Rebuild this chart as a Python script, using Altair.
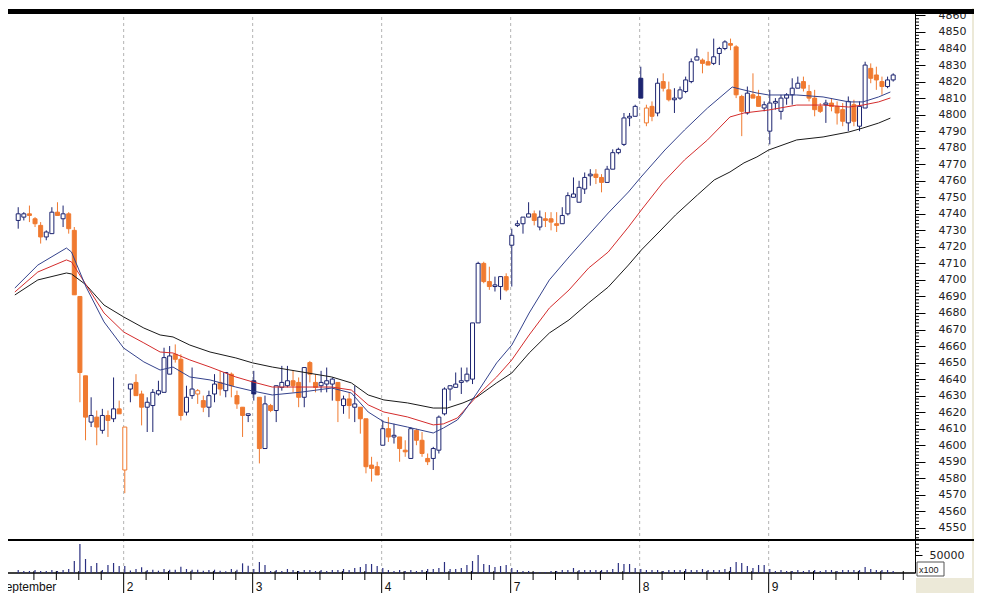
import altair as alt
import pandas as pd

# ---------------- data ----------------
# bar index: 0 = first bar of day "2"; 23 bars per day
OPEN = [4736,4738,4740,4737,4733,4726,4728,4741,4737,4740,4730,4690,4642,4614,4617,4609,4618,4616,4622,
        4585,4634,4638,4631,4623,4624,4631,4632,4643,4655,4652,4620,4630,4631,4627,4623,4631,4638,4633,4643,4630,4623,4618,
        4639,4629,4598,4624,4621,4635,4636,4639,4638,4629,4650,4638,4636,4637,4637,4638,4624,4628,4623,4623,4616,4588,4587,
        4600,4610,4605,4605,4597,4592,4609,4603,4592,4592,4597,4619,4634,4635,4638,4639,4640,4674,4710,4699,4696,4696,4702,
        4721,4733,4734,4738,4740,4732,4737,4737,4734,4734,4740,4750,4747,4755,4763,4764,4762,4759,4767,4777,4782,4798,4799,
        4822,4795,4805,4801,4820,4815,4809,4810,4814,4820,4833,4833,4832,4831,4837,4840,4843,4841,4811,4801,4812,4811,4804,
        4790,4807,4802,4810,4812,4816,4820,4814,4810,4805,4806,4807,4805,4803,4795,4806,4793,4804,4828,4824,4820,4817,4821]
HIGH = [4744,4741,4745,4738,4735,4730,4744,4747,4745,4741,4732,4690,4642,4629,4621,4622,4621,4641,4627,
        4611,4637,4643,4633,4629,4634,4639,4659,4660,4661,4655,4636,4647,4634,4630,4633,4643,4645,4644,4644,4633,4623,4619,
        4645,4629,4630,4625,4636,4648,4648,4645,4641,4647,4651,4643,4645,4647,4641,4638,4630,4632,4636,4623,4616,4593,4590,
        4615,4617,4613,4605,4603,4611,4610,4608,4595,4599,4618,4635,4636,4644,4647,4647,4674,4711,4711,4708,4702,4702,4704,
        4731,4736,4738,4747,4742,4742,4741,4741,4741,4744,4753,4762,4760,4765,4767,4767,4764,4769,4779,4780,4801,4801,4806,
        4829,4806,4808,4822,4825,4820,4816,4817,4823,4834,4840,4834,4838,4846,4841,4845,4846,4842,4812,4817,4825,4815,4808,
        4815,4810,4812,4813,4822,4823,4823,4818,4815,4807,4809,4810,4808,4807,4811,4809,4808,4832,4831,4829,4823,4823,4825]
LOW = [4731,4736,4735,4732,4722,4724,4728,4739,4732,4728,4691,4626,4603,4611,4600,4607,4605,4614,4619,
       4571,4626,4630,4612,4608,4608,4630,4632,4643,4650,4615,4618,4628,4625,4620,4617,4626,4630,4629,4629,4622,4605,4614,
       4627,4589,4598,4620,4614,4633,4635,4632,4623,4623,4638,4632,4632,4632,4627,4614,4619,4616,4614,4607,4583,4578,4582,
       4600,4602,4601,4590,4593,4592,4600,4593,4588,4585,4595,4618,4627,4635,4631,4638,4637,4674,4698,4694,4693,4688,4693,
       4696,4732,4728,4738,4733,4730,4732,4730,4729,4734,4739,4750,4747,4752,4757,4758,4753,4759,4767,4776,4781,4793,4799,
       4810,4793,4796,4799,4814,4808,4801,4809,4813,4819,4833,4825,4830,4830,4830,4839,4839,4810,4787,4800,4810,4805,4802,
       4782,4803,4797,4806,4806,4816,4814,4808,4799,4801,4795,4802,4794,4793,4790,4793,4790,4804,4819,4815,4812,4816,4820]
CLOSE = [4740,4740,4739,4734,4726,4729,4741,4739,4740,4731,4691,4644,4617,4618,4611,4618,4615,4622,4619,
         4611,4637,4630,4623,4626,4632,4633,4653,4654,4652,4618,4629,4634,4633,4623,4630,4637,4634,4644,4636,4625,4618,4619,
         4631,4598,4625,4621,4636,4638,4639,4636,4629,4647,4643,4635,4638,4639,4640,4627,4628,4624,4625,4616,4587,4586,4582,
         4610,4605,4606,4598,4596,4610,4603,4595,4590,4598,4617,4634,4636,4637,4639,4643,4674,4710,4699,4696,4697,4702,4694,
         4727,4734,4738,4740,4736,4738,4736,4735,4733,4739,4751,4752,4756,4762,4764,4762,4759,4767,4777,4779,4798,4799,4805,
         4810,4804,4799,4819,4816,4809,4810,4815,4821,4832,4835,4831,4830,4835,4840,4844,4842,4812,4802,4813,4810,4805,4806,
         4807,4808,4810,4812,4816,4819,4816,4810,4803,4802,4807,4805,4801,4796,4808,4796,4805,4830,4822,4821,4817,4821,4824]
VOLUME = [8300,5600,5600,8300,5600,5600,8300,5600,8300,11100,33300,80600,38900,19400,27800,8300,22200,27800,19400,
          19400,6900,11100,15800,8300,9200,6400,11100,9200,9200,17500,11100,9200,9200,6400,8300,9200,6400,4700,11100,9200,26900,20300,
          11100,30600,22200,5600,8300,5600,11100,8300,5600,8300,8300,5600,8300,5600,8300,8300,11100,8300,13900,16700,25000,25000,19400,
          13900,8300,5600,8300,5600,8300,5600,8300,11100,11100,13900,30600,11100,11100,13900,22200,33300,50000,25000,22200,16700,19400,22200,
          13900,8300,5600,5600,2800,2800,2800,5600,5600,8300,8300,13900,8300,8300,8300,8300,8300,8300,11100,27800,25000,25000,13900,
          11100,8300,8300,8300,5600,8300,8300,8300,11100,8300,8300,11100,8300,8300,8300,11100,16700,30600,27800,19400,13900,22200,22200,
          11100,5600,8300,5600,5600,8300,5600,8300,8300,5600,8300,8300,5600,8300,8300,8300,8300,16700,11100,8300,8300,8300,5600]
FIRST_INDEX = -19

# moving averages, sampled along the curves (bar index, value)
MA_FAST_X = [-19.6,-15.5,-10.4,-9.5,-6.9,-3.7,-0.2,3.4,6.3,8.6,11.6,15.2,19.8,22.8,26.3,31.6,36.9,40.4,43.4,46.2,
             50.4,55.0,56.8,59.3,60.3,62.8,66.3,69.0,72.1,75.7,79.2,82.7,86.2,89.8,91.9,96.3,99.8,103.9,108.3,110.4,
             112.7,114.8,119.8,124.5,129.1,131.6,134.4,136.5]
MA_FAST_Y = [4695.1,4709.0,4719.3,4716.9,4695.7,4674.6,4658.8,4650.4,4645.5,4647.3,4641.3,4639.5,4635.2,4632.8,4630.4,
             4632.2,4634.6,4631.6,4620.1,4614.1,4611.0,4607.4,4610.4,4615.3,4619.5,4631.6,4649.8,4660.6,4680.0,4700.0,
             4713.9,4727.2,4740.5,4753.2,4761.7,4778.6,4790.7,4804.0,4816.7,4814.9,4813.1,4811.9,4811.9,4810.7,4807.7,
             4807.7,4810.7,4813.7]
MA_MID_X = [-19.6,-15.5,-10.4,-9.5,-6.9,-3.7,-0.2,3.4,6.3,8.6,11.6,15.2,19.8,22.8,26.3,31.6,36.9,40.4,43.4,46.2,
            50.4,55.0,56.8,59.3,62.8,66.3,69.0,72.1,75.7,79.2,82.7,86.2,89.8,92.1,95.9,99.8,103.9,107.9,110.4,114.8,
            119.8,124.5,129.1,131.6,134.4,136.5]
MA_MID_Y = [4692.7,4704.8,4712.1,4710.9,4697.0,4680.0,4668.5,4661.9,4656.4,4655.8,4651.6,4647.3,4641.3,4638.3,4635.2,
            4635.2,4635.2,4633.4,4624.4,4620.1,4617.1,4612.3,4612.9,4616.5,4629.8,4641.3,4651.6,4666.7,4683.0,4693.9,
            4707.2,4716.9,4732.0,4742.3,4758.7,4772.6,4784.7,4798.6,4801.0,4802.8,4805.8,4805.8,4804.6,4805.8,4807.7,
            4810.1]
MA_SLOW_X = [-19.6,-15.5,-10.4,-9.5,-6.9,-3.7,-0.2,3.4,6.3,8.6,11.6,15.2,19.8,22.8,26.3,31.6,36.9,40.4,43.4,46.2,
             50.4,55.0,57.5,60.3,62.8,66.3,69.0,72.1,75.7,79.2,82.7,86.2,89.8,92.1,95.6,98.2,102.1,105.1,107.9,110.4,
             112.7,114.8,119.8,124.5,129.1,131.6,134.4,136.5]
MA_SLOW_Y = [4690.9,4700.0,4704.2,4703.6,4697.0,4684.8,4677.6,4670.9,4666.7,4665.5,4660.6,4656.4,4652.8,4649.8,4647.3,
             4644.3,4641.3,4637.7,4630.4,4627.4,4625.6,4622.5,4622.5,4625.6,4629.2,4637.7,4643.7,4655.8,4667.9,4675.8,
             4686.1,4695.7,4709.0,4718.1,4730.2,4739.3,4751.4,4760.5,4765.3,4770.8,4774.4,4778.6,4784.7,4786.5,4789.5,
             4791.9,4794.9,4797.9]

# session boundaries (bar index) and their labels
DAY_X = [-23.2, -0.2, 22.8, 45.8, 68.8, 91.8, 114.8]
DAY_LABELS = ["September", "2", "3", "4", "7", "8", "9"]
MINOR_X = [-16.2,-12.2,-8.2,-4.2, 3.8,7.8,11.8,15.8,19.8, 26.8,30.8,34.8,38.8,42.8, 49.8,53.8,57.8,61.8,65.8,
           72.8,76.8,80.8,84.8,88.8, 95.8,99.8,103.8,107.8,111.8, 118.8,122.8,126.8,130.8,134.8,138.8]
PRICE_MAJOR = list(range(4550, 4861, 10))
PRICE_MINOR = [t for t in range(4544, 4863, 2) if t % 10 != 0]
VOL_MAJOR = [50000]
VOL_MINOR = [60000, 70000, 80000]

# ---------------- styling ----------------
NAVY = "#1c2470"
ORANGE = "#f07a30"
BLUE = "#34428c"
RED = "#d42c2c"
BLACK = "#1a1a1a"
W, H = 907, 562

df = pd.DataFrame(dict(i=list(range(FIRST_INDEX, FIRST_INDEX + len(OPEN))),
                       o=OPEN, h=HIGH, l=LOW, c=CLOSE, v=VOLUME))
prev = df["c"].shift(1).fillna(df["o"])
df["stroke"] = [NAVY if c >= p else ORANGE for c, p in zip(df["c"], prev)]
df["fill"] = ["white" if c >= o else s for c, o, s in zip(df["c"], df["o"], df["stroke"])]

XS = alt.Scale(domain=[-19.93, 140.0], nice=False, zero=False)
PS = alt.Scale(domain=[4522.7, 4862.7], nice=False, zero=False)
VS = alt.Scale(domain=[0, 1561111], nice=False)

price_axis = alt.Axis(
    orient="right", values=PRICE_MAJOR, format="d", tickSize=10, zindex=0,
    tickColor="#000", domainColor="#000", domainWidth=1,
    labelFont="DejaVu Sans", labelFontSize=11, labelColor="#222",
    labelPadding=13, labelOverlap=False, labelFlush=False, grid=False, title=None,
    labelAlign="left", labelBaseline="middle")

vol_axis = alt.Axis(
    orient="right", values=VOL_MAJOR, format="d", tickSize=7, zindex=0,
    tickColor="#000", domain=False,
    labelFont="DejaVu Sans", labelFontSize=11, labelColor="#222",
    labelPadding=7, labelOverlap=False, labelFlush=False, grid=False, title=None,
    labelAlign="left", labelBaseline="middle")


def X(f):
    return alt.X(f, type="quantitative", scale=XS, axis=None)


def P(f):
    return alt.Y(f, type="quantitative", scale=PS, axis=price_axis)


def V(f):
    return alt.Y(f, type="quantitative", scale=VS, axis=vol_axis)


one = pd.DataFrame({"a": [0]})
days = pd.DataFrame({"bx": DAY_X, "lab": DAY_LABELS})
grid_days = days[days["bx"] > -20]
minor = pd.DataFrame({"mx": MINOR_X})
pminor = pd.DataFrame({"t": PRICE_MINOR})
vminor = pd.DataFrame({"t": VOL_MINOR})

beige1 = alt.Chart(one).mark_rect(color="#ece9d8").encode(
    x=alt.value(964), x2=alt.value(990), y=alt.value(-11), y2=alt.value(600))
beige2 = alt.Chart(one).mark_rect(color="#ece9d8").encode(
    x=alt.value(908), x2=alt.value(990), y=alt.value(567), y2=alt.value(600))

grid = alt.Chart(grid_days).mark_rule(color="#b4b4b4", strokeDash=[3, 3], strokeWidth=1).encode(
    x=X("bx"), y=alt.value(0), y2=alt.value(H))

wick = alt.Chart(df).mark_rule(strokeWidth=1).encode(
    x=X("i"), y=P("l"), y2="h", color=alt.Color("stroke:N", scale=None))

body = alt.Chart(df).mark_bar(size=4, strokeWidth=1).encode(
    x=X("i"), y=P("o"), y2="c",
    fill=alt.Fill("fill:N", scale=None), stroke=alt.Stroke("stroke:N", scale=None))


def ma(xs, ys, color):
    d = pd.DataFrame({"x": xs, "y": ys, "k": range(len(xs))})
    return alt.Chart(d).mark_line(color=color, strokeWidth=1).encode(
        x=X("x"), y=P("y"), order="k:Q")


price_minor = alt.Chart(pminor).mark_rule(color="#000", strokeWidth=1).encode(
    x=alt.value(W), x2=alt.value(W + 4), y=P("t"))

top_line = alt.Chart(one).mark_rule(color="black", strokeWidth=5).encode(
    x=alt.value(-8), x2=alt.value(990), y=alt.value(0.5))
sep_line = alt.Chart(one).mark_rule(color="black", strokeWidth=2).encode(
    x=alt.value(-8), x2=alt.value(990), y=alt.value(529))
base_line = alt.Chart(one).mark_rule(color="black", strokeWidth=1.5).encode(
    x=alt.value(-8), x2=alt.value(W), y=alt.value(H))
day_ticks = alt.Chart(days).mark_rule(color="black", strokeWidth=1).encode(
    x=X("bx"), y=alt.value(H), y2=alt.value(H + 24))
minor_ticks = alt.Chart(minor).mark_rule(color="black", strokeWidth=1).encode(
    x=X("mx"), y=alt.value(H - 2), y2=alt.value(H + 7))
day_text = alt.Chart(days).mark_text(
    align="left", baseline="top", dx=3, font="Liberation Sans", fontSize=12, color="#111").encode(
    x=X("bx"), y=alt.value(H + 9), text="lab:N")
box = alt.Chart(one).mark_rect(fill="white", stroke="#555", strokeWidth=1).encode(
    x=alt.value(909), x2=alt.value(936), y=alt.value(551), y2=alt.value(565))
box_text = alt.Chart(one).mark_text(
    text="x100", align="left", baseline="middle", font="Liberation Sans", fontSize=9, color="#222").encode(
    x=alt.value(911), y=alt.value(558.5))

price = alt.layer(
    beige1, beige2, grid, wick, body,
    ma(MA_SLOW_X, MA_SLOW_Y, BLACK), ma(MA_MID_X, MA_MID_Y, RED), ma(MA_FAST_X, MA_FAST_Y, BLUE),
    price_minor, top_line, sep_line, base_line, day_ticks, minor_ticks, day_text, box, box_text)

vol_bars = alt.Chart(df).mark_bar(size=1.2, color="#2a2f80").encode(x=X("i"), y=V("v"))
vol_minor = alt.Chart(vminor).mark_rule(color="#000", strokeWidth=1).encode(
    x=alt.value(W), x2=alt.value(W + 4), y=V("t"))
vol = alt.layer(vol_bars, vol_minor)

chart = alt.layer(price, vol).resolve_scale(y="independent").properties(
    width=W, height=H,
    autosize=alt.AutoSizeParams(type="none"),
    padding={"left": 0, "top": 3, "right": 59, "bottom": 20},
    background="white",
).configure_view(stroke=None)

chart.save("out.html", embed_options={"renderer": "svg", "actions": False})
